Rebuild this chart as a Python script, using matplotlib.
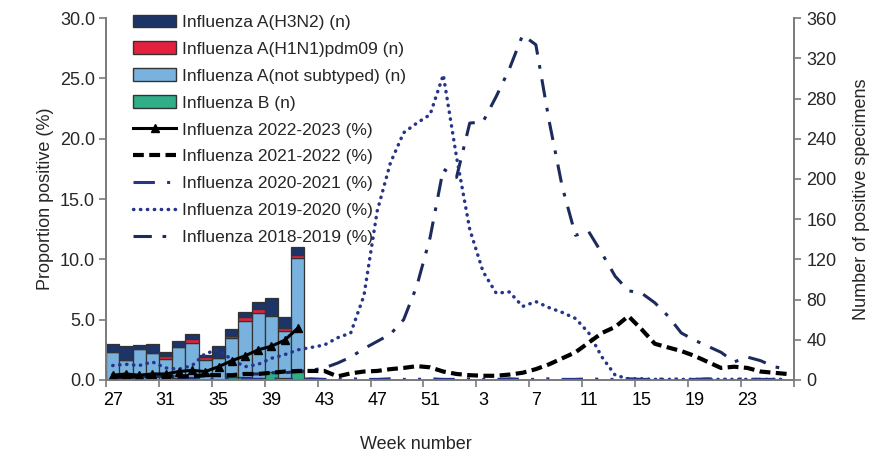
import numpy as np
import matplotlib.pyplot as plt
from matplotlib.patches import Patch
from matplotlib.lines import Line2D

plt.rcParams['font.family'] = ['Liberation Sans', 'DejaVu Sans']
plt.rcParams['font.size'] = 13

# surveillance weeks 27..52, 1..26
weeks = list(range(27, 53)) + list(range(1, 27))
x = np.arange(len(weeks))

# positive specimens (n), current season weeks 27-41
h3n2 = [8, 14, 4, 9, 4, 6, 5, 2, 12, 7, 5, 7, 17, 11, 8]
h1n1 = [0, 0, 0, 0, 3, 0, 4, 3, 0, 2, 4, 4, 1, 3, 3]
not_subtyped = [28, 20, 30, 27, 21, 31, 34, 20, 22, 39, 56, 65, 56, 47, 113]
flu_b = [0, 0, 1, 0, 0, 2, 3, 0, 0, 3, 3, 2, 8, 2, 8]

# proportion positive (%)
p_2022_23 = [0.4, 0.5, 0.4, 0.5, 0.5, 0.7, 0.8, 0.7, 1.1, 1.6, 2.0, 2.5, 2.8, 3.3, 4.3]
p_2021_22 = [0.3, 0.3, 0.3, 0.3, 0.3, 0.3, 0.3, 0.4, 0.4, 0.4, 0.5, 0.5, 0.6, 0.7,
             0.75, 0.75, 0.75, 0.3, 0.55, 0.7, 0.75, 0.9, 1.0, 1.15, 1.05, 0.7,
             0.5, 0.4, 0.35, 0.35, 0.45, 0.6, 0.9, 1.3, 1.8, 2.3, 3.1, 3.9, 4.4,
             5.3, 4.2, 3.0, 2.7, 2.4, 2.0, 1.5, 1.0, 1.1, 1.0, 0.7, 0.6, 0.5]
p_2020_21 = [0.1, 0.05, 0.05, 0.1, 0.05, 0.05, 0.1, 0.05, 0.05, 0.1, 0.05, 0.05,
             0.1, 0.05, 0.05, 0.1, 0.05, 0.05, 0.1, 0.05, 0.05, 0.1, 0.05, 0.05,
             0.1, 0.05, 0.05, 0.1, 0.05, 0.05, 0.1, 0.05, 0.05, 0.1, 0.05, 0.05,
             0.1, 0.05, 0.05, 0.1, 0.05, 0.05, 0.1, 0.05, 0.05, 0.1, 0.05, 0.05,
             0.1, 0.05, 0.05, 0.1]
p_2019_20 = [1.2, 1.3, 1.2, 1.5, 1.0, 0.9, 1.2, 2.2, 2.5, 1.7, 1.1, 1.3, 1.8, 2.1,
             2.5, 2.7, 2.9, 3.5, 3.9, 7.0, 14.0, 18.0, 20.5, 21.3, 22.0, 25.3,
             18.5, 12.5, 9.0, 7.2, 7.3, 6.1, 6.5, 6.0, 5.6, 5.1, 3.9, 1.9, 0.4,
             0.1, 0.1, 0.05, 0.05, 0.05, 0.05, 0.05, 0.05, 0.05, 0.05, 0.05,
             0.05, 0.05]
p_2018_19 = [0.3, 0.3, 0.3, 0.3, 0.3, 0.3, 0.4, 0.4, 0.4, 0.4, 0.5, 0.5, 0.6, 0.6,
             0.7, 0.8, 1.0, 1.4, 1.9, 2.6, 3.2, 3.8, 5.0, 7.8, 11.8, 17.5, 16.8,
             21.3, 21.4, 23.5, 25.8, 28.6, 27.8, 21.5, 16.0, 12.0, 12.3, 10.5,
             8.6, 7.4, 7.2, 6.4, 5.3, 3.9, 3.3, 2.8, 2.3, 1.5, 1.9, 1.6, 1.1, 0.9]

c_h3n2 = '#1c3468'
c_h1n1 = '#e3213f'
c_notsub = '#79b2de'
c_b = '#2fae88'
c_navy = '#26348a'
c_navy_dark = '#1c2a5c'
edge = '#333333'

fig, ax = plt.subplots(figsize=(8.77, 4.54), dpi=100)
fig.subplots_adjust(left=0.121, right=0.905, bottom=0.163, top=0.960)
ax2 = ax.twinx()

# stacked bars on the specimen axis
bx = x[:len(h3n2)]
b1 = np.array(flu_b)
b2 = b1 + np.array(not_subtyped)
b3 = b2 + np.array(h1n1)
kw = dict(width=1.0, edgecolor=edge, linewidth=0.9)
ax2.bar(bx, flu_b, color=c_b, **kw)
ax2.bar(bx, not_subtyped, bottom=b1, color=c_notsub, **kw)
ax2.bar(bx, h1n1, bottom=b2, color=c_h1n1, **kw)
ax2.bar(bx, h3n2, bottom=b3, color=c_h3n2, **kw)

# proportion lines, drawn above the bars
ax.set_zorder(ax2.get_zorder() + 1)
ax.patch.set_visible(False)
ls_2018 = (0, (6, 3.5, 1.2, 3.5))
ls_2019 = (0, (0.1, 1.9))
ls_2020 = (0, (7, 4, 1, 4, 1, 4))
ls_2021 = (0, (2.6, 1.3))
ax.plot(x, p_2018_19, color=c_navy_dark, lw=2.2, linestyle=ls_2018)
ax.plot(x, p_2019_20, color=c_navy, lw=2.5, linestyle=ls_2019,
        dash_capstyle='round')
ax.plot(x, p_2020_21, color=c_navy, lw=2.2, linestyle=ls_2020)
ax.plot(x, p_2021_22, color='black', lw=3.0, linestyle=ls_2021)
ax.plot(x[:len(p_2022_23)], p_2022_23, color='black', lw=2.2,
        marker='^', markersize=5.5)

ax.set_xlim(-0.5, len(weeks) - 0.5)
ax.set_ylim(0, 30)
ax2.set_ylim(0, 360)
ax.set_yticks(np.arange(0, 30.1, 5))
ax.set_yticklabels([f'{v:.1f}' for v in np.arange(0, 30.1, 5)])
ax2.set_yticks(np.arange(0, 361, 40))

# tick marks on week boundaries, labels under every 4th week
ax.set_xticks(np.arange(-0.5, len(weeks), 4))
ax.set_xticklabels([])
ax.set_xticks(x[::4], minor=True)
ax.set_xticklabels([str(w) for w in weeks[::4]], minor=True)
ax.tick_params(axis='x', which='minor', length=0, pad=9)
ax.tick_params(axis='x', which='major', length=5, direction='out')

for a in (ax, ax2):
    for s in a.spines.values():
        s.set_color('#7a7a7a')
        s.set_linewidth(1.2)
    a.spines['top'].set_visible(False)
    a.tick_params(colors='#7a7a7a', labelcolor='#262626', width=1.2)
ax.tick_params(axis='y', length=5, pad=3)
ax2.tick_params(axis='y', length=5, pad=4)

ax.set_ylabel('Proportion positive (%)', color='#262626', labelpad=4)
ax2.set_ylabel('Number of positive specimens', color='#262626', labelpad=12)
ax.set_xlabel('Week number', color='#262626')
ax.xaxis.set_label_coords(0.45, -0.155)

handles = [
    Patch(facecolor=c_h3n2, edgecolor=edge),
    Patch(facecolor=c_h1n1, edgecolor=edge),
    Patch(facecolor=c_notsub, edgecolor=edge),
    Patch(facecolor=c_b, edgecolor=edge),
    Line2D([], [], color='black', lw=2.2, marker='^', markersize=5.5),
    Line2D([], [], color='black', lw=3.0, linestyle=ls_2021),
    Line2D([], [], color=c_navy, lw=2.2, linestyle=ls_2020),
    Line2D([], [], color=c_navy, lw=2.5, linestyle=ls_2019,
           dash_capstyle='round'),
    Line2D([], [], color=c_navy_dark, lw=2.2, linestyle=ls_2018),
]
labels = ['Influenza A(H3N2) (n)', 'Influenza A(H1N1)pdm09 (n)',
          'Influenza A(not subtyped) (n)', 'Influenza B (n)',
          'Influenza 2022-2023 (%)', 'Influenza 2021-2022 (%)',
          'Influenza 2020-2021 (%)', 'Influenza 2019-2020 (%)',
          'Influenza 2018-2019 (%)']
leg = ax.legend(handles, labels, loc='upper left', bbox_to_anchor=(0.039, 1.01),
                frameon=False, borderpad=0, borderaxespad=0, handlelength=2.5,
                handletextpad=0.3, labelspacing=0.68, fontsize=12.5)
for t in leg.get_texts():
    t.set_color('#262626')

fig.savefig('out.png', dpi=100)
